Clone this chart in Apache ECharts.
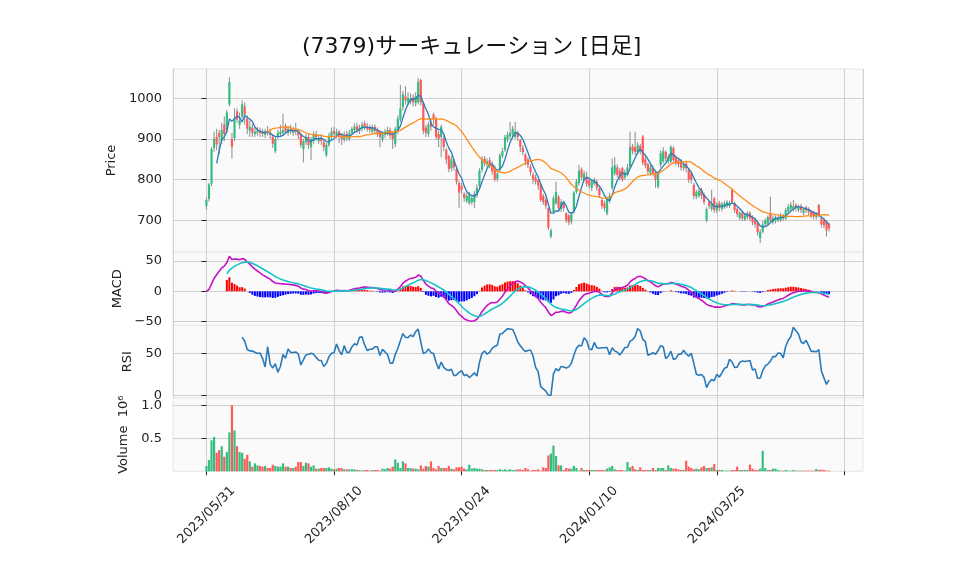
<!DOCTYPE html>
<html>
<head>
<meta charset="utf-8">
<title>(7379) 日足</title>
<script src="https://cdn.jsdelivr.net/npm/echarts@6/dist/echarts.min.js"></script>
<style>
  html, body { margin: 0; padding: 0; background: #fff; }
  #chart { width: 958px; height: 575px; }
</style>
</head>
<body>
<div id="chart"></div>
<script>
// daily bars, index 0 = 2023/05/31 (trading days only)
var openPrice = [
  735,752,790,878,905,915,895,935,922,985,
  900,902,968,935,955,980,950,920,928,912,
  915,920,918,910,920,915,905,870,905,912,
  915,932,915,925,915,922,918,912,875,892,
  905,880,895,910,895,902,892,860,885,905,
  920,910,918,908,898,912,900,915,922,932,
  920,925,938,932,928,918,930,922,918,898,
  910,915,922,912,888,918,948,978,1005,990,
  992,1002,988,990,1045,988,928,912,940,960,
  950,912,905,902,873,858,828,845,825,792,
  785,765,748,742,745,745,762,785,824,852,
  838,848,838,830,802,824,858,873,898,906,
  912,905,915,897,878,861,850,832,812,805,
  798,787,760,750,730,660,721,742,758,728,
  742,717,712,697,721,770,791,825,800,807,
  798,780,790,795,778,750,742,717,748,779,
  815,830,822,828,805,812,832,882,880,868,
  882,906,850,838,815,828,818,783,836,845,
  868,845,844,878,855,848,845,828,840,824,
  815,787,758,760,775,762,700,745,728,754,
  725,742,728,732,735,735,775,742,728,705,
  718,702,708,718,708,700,693,656,672,690,
  692,717,695,698,700,700,712,705,722,728,
  728,738,725,735,718,732,728,722,720,708,
  738,705,700,697,690
];
var closePrice = [
  750,788,875,900,887,905,922,912,965,1040,
  880,950,948,945,985,960,925,930,915,918,
  920,915,912,918,915,910,888,900,915,918,
  922,918,925,920,922,918,910,885,895,905,
  885,900,912,905,900,895,880,885,908,918,
  912,918,905,900,910,903,915,925,930,922,
  928,935,930,925,922,928,920,915,905,912,
  918,922,908,900,925,950,975,1010,995,1000,
  1000,990,1005,1040,990,920,915,935,930,948,
  905,900,930,880,850,826,850,830,795,768,
  775,755,760,762,755,765,780,822,850,840,
  845,835,820,800,815,860,870,905,910,915,
  925,918,905,880,868,845,836,818,800,795,
  785,750,745,735,682,675,754,770,730,745,
  730,700,695,715,768,795,822,805,815,790,
  785,795,798,780,762,735,730,752,760,830,
  835,812,805,800,818,830,880,870,868,885,
  870,842,835,820,830,815,800,815,865,870,
  852,855,880,848,840,838,830,835,828,800,
  800,760,770,772,760,745,727,735,740,725,
  740,730,740,742,745,742,745,725,715,718,
  705,712,718,705,695,690,670,672,690,700,
  708,700,705,708,706,712,705,725,733,738,
  735,730,733,725,728,725,720,712,710,715,
  712,690,688,675,680
];
var highPrice = [
  756,792,880,918,925,922,940,955,972,1052,
  915,975,975,965,995,990,958,945,938,930,
  930,928,925,925,932,925,912,905,922,935,
  962,938,932,935,930,940,925,915,900,912,
  910,905,918,920,910,912,898,890,915,928,
  930,925,922,915,918,920,922,930,938,940,
  935,942,945,940,935,935,936,928,922,918,
  925,930,928,918,930,958,1033,1018,1030,1015,
  1012,1010,1015,1050,1048,992,935,942,950,965,
  955,920,935,908,878,862,858,852,830,798,
  792,770,768,770,762,772,788,828,858,858,
  852,855,845,835,822,865,878,910,918,942,
  932,942,920,900,885,866,855,838,818,812,
  802,790,765,755,732,680,760,795,762,752,
  748,720,715,720,772,802,836,830,822,820,
  805,800,805,800,782,755,748,758,768,852,
  855,838,828,832,825,838,918,888,918,892,
  888,910,858,842,838,835,822,820,872,880,
  872,862,885,882,860,852,850,842,845,828,
  820,792,775,778,780,768,732,750,775,758,
  745,748,745,748,750,748,778,745,732,722,
  722,718,722,722,712,705,698,678,698,705,
  712,758,712,712,712,718,716,730,740,745,
  750,742,738,740,732,736,732,726,724,720,
  740,710,705,700,694
];
var lowPrice = [
  726,746,784,868,872,862,888,895,915,980,
  852,895,940,925,950,935,912,905,905,905,
  908,905,905,902,908,900,878,865,898,905,
  910,912,908,912,908,910,900,878,842,885,
  875,848,888,895,888,885,870,855,880,900,
  905,902,890,885,892,895,895,910,915,915,
  912,918,922,918,915,912,912,905,880,892,
  902,908,900,875,880,912,942,970,985,982,
  985,980,980,985,982,912,905,905,920,935,
  898,880,855,870,838,818,820,822,788,730,
  765,745,742,738,738,730,755,780,818,832,
  830,828,812,795,795,818,852,868,892,900,
  905,900,895,868,860,835,828,810,790,788,
  775,745,738,728,676,656,715,738,722,720,
  722,694,688,690,716,765,785,798,795,782,
  778,772,785,772,755,728,722,712,742,775,
  810,805,798,795,800,808,828,862,860,862,
  862,835,828,812,810,808,780,778,830,840,
  845,838,840,842,835,830,822,822,818,792,
  790,752,752,755,752,738,695,728,722,718,
  718,722,722,728,730,730,740,718,708,700,
  698,698,702,698,688,682,662,644,668,685,
  688,694,690,692,695,696,698,700,718,722,
  722,722,720,718,712,718,712,705,702,702,
  706,682,680,660,672
];
// volume in millions of shares
var volume = [
  .08,.17,.47,.52,.28,.32,.38,.22,.29,.59,
  1.0,.62,.38,.29,.28,.19,.25,.15,.07,.12,
  .09,.08,.07,.08,.05,.05,.10,.08,.07,.07,
  .12,.07,.07,.05,.05,.07,.14,.14,.08,.13,
  .12,.07,.09,.04,.04,.05,.05,.05,.06,.04,
  .03,.04,.05,.05,.03,.03,.03,.03,.03,.02,
  .02,.01,.02,.02,.01,.02,.02,.02,.01,.04,
  .03,.05,.04,.07,.18,.13,.05,.15,.12,.05,
  .05,.04,.04,.03,.09,.04,.08,.07,.15,.05,
  .03,.08,.05,.05,.05,.08,.04,.03,.06,.06,
  .07,.04,.03,.10,.04,.05,.04,.04,.03,.02,
  .02,.02,.02,.02,.02,.03,.02,.03,.02,.03,
  .02,.02,.03,.03,.02,.05,.03,.01,.02,.02,
  .03,.01,.06,.05,.24,.27,.39,.23,.09,.09,
  .02,.05,.04,.04,.08,.05,.01,.05,.02,.02,
  .02,.02,.02,.02,.02,.02,.02,.04,.06,.08,
  .03,.02,.02,.02,.01,.14,.06,.08,.03,.02,
  .06,.02,.02,.02,.02,.05,.02,.05,.05,.05,
  .02,.09,.05,.04,.04,.03,.02,.02,.16,.07,
  .05,.03,.04,.03,.06,.08,.05,.05,.06,.11,
  .02,.02,.02,.01,.01,.01,.02,.02,.07,.02,
  .02,.02,.02,.10,.04,.02,.02,.04,.31,.05,
  .02,.02,.04,.04,.02,.01,.01,.02,.01,.01,
  .02,.01,.01,.01,.01,.01,.01,.01,.01,.035,
  .02,.025,.02,.01,.01
];
var xTickIndex = [0, 50, 100, 150, 200, 250];
var xTickLabels = ['2023/05/31', '2023/08/10', '2023/10/24', '2024/01/10', '2024/03/25', ''];

var UP = '#35bd80', DOWN = '#ff5a5a', WICK = '#8c8c8c';
var N = closePrice.length;

// indicators from the closes
function movingAverage(n) {
  var out = [];
  for (var i = n - 1; i < N; i++) {
    var s = 0;
    for (var j = i - n + 1; j <= i; j++) s += closePrice[j];
    out.push([i, s / n]);
  }
  return out;
}
function ema(arr, n) {
  var k = 2 / (n + 1), out = [arr[0]];
  for (var i = 1; i < arr.length; i++) out.push(out[i - 1] + k * (arr[i] - out[i - 1]));
  return out;
}
var ema12 = ema(closePrice, 12), ema26 = ema(closePrice, 26);
var macd = closePrice.map(function (c, i) { return ema12[i] - ema26[i]; });
var signal = ema(macd, 9);
var macdLine = [], signalLine = [], histData = [];
for (var i = 0; i < N; i++) {
  macdLine.push([i, macd[i]]);
  if (i >= 8) {
    signalLine.push([i, signal[i]]);
    histData.push([i, macd[i] - signal[i]]);
  }
}
var rsiLine = [];
for (var i = 14; i < N; i++) {
  var g = 0, l = 0;
  for (var j = i - 13; j <= i; j++) {
    var d = closePrice[j] - closePrice[j - 1];
    if (d > 0) g += d; else l -= d;
  }
  rsiLine.push([i, g + l === 0 ? 50 : 100 * g / (g + l)]);
}

var candleData = [], volData = [];
for (var i = 0; i < N; i++) {
  candleData.push([i, openPrice[i], closePrice[i], lowPrice[i], highPrice[i]]);
  volData.push({ value: [i, volume[i]], itemStyle: { color: closePrice[i] >= openPrice[i] ? UP : DOWN } });
}

function renderCandle(params, api) {
  var x = api.value(0), o = api.value(1), c = api.value(2);
  var pl = api.coord([x, api.value(3)]), ph = api.coord([x, api.value(4)]);
  var po = api.coord([x, o]), pc = api.coord([x, c]);
  var top = Math.min(po[1], pc[1]);
  var h = Math.max(Math.abs(po[1] - pc[1]), 1);
  return {
    type: 'group',
    children: [
      { type: 'line', shape: { x1: pl[0], y1: pl[1], x2: ph[0], y2: ph[1] }, style: { stroke: WICK, lineWidth: 1 } },
      { type: 'rect', shape: { x: po[0] - 1.1, y: top, width: 2.2, height: h }, style: { fill: c >= o ? UP : DOWN } }
    ]
  };
}

var gridLine = { show: true, lineStyle: { color: '#d0d0d0', width: 1 } };
var labelStyle = { color: '#222', fontSize: 13, fontFamily: 'DejaVu Sans' };

function makeGrid(top, height) {
  return { left: 173, right: 95, top: top, height: height, show: true,
           backgroundColor: '#fafafa', borderColor: '#e6e6e6', borderWidth: 1 };
}
function makeX(idx, bottom) {
  var ax = { type: 'value', gridIndex: idx, min: -13.1, max: 257.3, splitNumber: 5,
             axisLine: { show: false }, splitLine: gridLine,
             axisTick: { show: false }, axisLabel: { show: false } };
  if (bottom) {
    ax.axisTick = { show: true, length: 4, customValues: xTickIndex, lineStyle: { color: '#222' } };
    ax.axisLabel = Object.assign({}, labelStyle, {
      show: true, rotate: 45, align: 'center', verticalAlign: 'middle', margin: 44,
      customValues: xTickIndex, showMinLabel: true, showMaxLabel: true, hideOverlap: false,
      formatter: function (v) {
        var k = xTickIndex.indexOf(Math.round(v));
        return (k >= 0 && Math.abs(v - xTickIndex[k]) < 1e-6) ? xTickLabels[k] : '';
      }
    });
  }
  return ax;
}
function makeY(idx, min, max, split, ticks, name, gap, fmt) {
  return { type: 'value', gridIndex: idx, min: min, max: max, splitNumber: split,
           name: name, nameLocation: 'middle', nameGap: gap,
           nameTextStyle: { color: '#222', fontSize: 13, fontFamily: 'DejaVu Sans, Noto Sans' },
           axisLine: { show: false }, splitLine: gridLine,
           axisTick: { show: true, length: 5, customValues: ticks, lineStyle: { color: '#222' } },
           axisLabel: Object.assign({}, labelStyle, { margin: 11, customValues: ticks,
             showMinLabel: true, showMaxLabel: true, hideOverlap: false, formatter: fmt }) };
}

var chart = echarts.init(document.getElementById('chart'), null, { renderer: 'canvas' });
chart.setOption({
  animation: false,
  backgroundColor: '#ffffff',
  textStyle: { fontFamily: 'DejaVu Sans' },
  title: {
    text: '(7379)サーキュレーション [日足]', left: 297, top: 31,
    textStyle: { fontSize: 22, fontWeight: 'normal', color: '#111', fontFamily: 'DejaVu Sans, Noto Sans CJK JP' }
  },
  grid: [makeGrid(69, 183), makeGrid(252, 73.5), makeGrid(325.5, 72.5), makeGrid(398, 73.3)],
  xAxis: [makeX(0, false), makeX(1, false), makeX(2, false), makeX(3, true)],
  yAxis: [
    makeY(0, 622, 1072, 5, [700, 800, 900, 1000], 'Price', 50, function (v) { return String(v); }),
    makeY(1, -56.4, 64.9, 2, [-50, 0, 50], 'MACD', 43, function (v) { return v < 0 ? '\u2212' + (-v) : String(v); }),
    makeY(2, -3.2, 83.1, 2, [0, 50], 'RSI', 35, function (v) { return String(v); }),
    makeY(3, 0, 1.11, 2, [0.5, 1.0], 'Volume  10\u2076', 40, function (v) { return v > 0 ? v.toFixed(1) : ''; })
  ],
  series: [
    { type: 'custom', xAxisIndex: 0, yAxisIndex: 0, renderItem: renderCandle,
      encode: { x: 0, y: [1, 2, 3, 4] }, data: candleData },
    { type: 'line', xAxisIndex: 0, yAxisIndex: 0, data: movingAverage(5), showSymbol: false,
      lineStyle: { color: '#2a7ab9', width: 1.3 }, itemStyle: { color: '#2a7ab9' } },
    { type: 'line', xAxisIndex: 0, yAxisIndex: 0, data: movingAverage(25), showSymbol: false,
      lineStyle: { color: '#ff8c1a', width: 1.3 }, itemStyle: { color: '#ff8c1a' } },
    { type: 'bar', xAxisIndex: 1, yAxisIndex: 1, data: histData, barWidth: 2,
      itemStyle: { color: function (p) { return p.value[1] >= 0 ? '#ff0000' : '#0000ff'; } } },
    { type: 'line', xAxisIndex: 1, yAxisIndex: 1, data: macdLine, showSymbol: false,
      lineStyle: { color: '#c414c4', width: 1.6 }, itemStyle: { color: '#c414c4' } },
    { type: 'line', xAxisIndex: 1, yAxisIndex: 1, data: signalLine, showSymbol: false,
      lineStyle: { color: '#17c3c6', width: 1.6 }, itemStyle: { color: '#17c3c6' } },
    { type: 'line', xAxisIndex: 2, yAxisIndex: 2, data: rsiLine, showSymbol: false,
      lineStyle: { color: '#2a7ab9', width: 1.6 }, itemStyle: { color: '#2a7ab9' } },
    { type: 'bar', xAxisIndex: 3, yAxisIndex: 3, data: volData, barWidth: 2.2 }
  ]
});
</script>
</body>
</html>
